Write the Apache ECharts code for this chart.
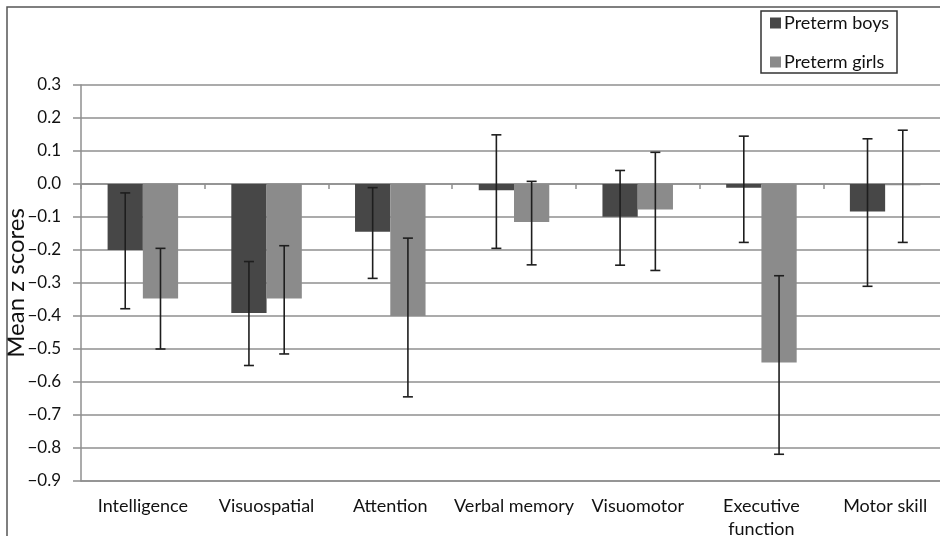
<!DOCTYPE html>
<html>
<head>
<meta charset="utf-8">
<script src="https://cdn.jsdelivr.net/npm/echarts@6/dist/echarts.min.js"></script>
<style>
html,body{margin:0;padding:0;background:#fff;}
#chart{width:940px;height:536px;}
</style>
</head>
<body>
<div id="chart"></div>
<script>
const categories = ['Intelligence', 'Visuospatial', 'Attention', 'Verbal memory', 'Visuomotor', 'Executive\nfunction', 'Motor skill'];
const seriesNames = ['Preterm boys', 'Preterm girls'];
const boysMean = [-0.200, -0.391, -0.145, -0.019, -0.099, -0.011, -0.083];
const boysLow  = [-0.378, -0.550, -0.286, -0.195, -0.246, -0.177, -0.310];
const boysHigh = [-0.027, -0.235, -0.011,  0.149,  0.041,  0.145,  0.137];
const girlsMean = [-0.347, -0.347, -0.400, -0.115, -0.077, -0.541, -0.004];
const girlsLow  = [-0.500, -0.515, -0.645, -0.245, -0.262, -0.819, -0.177];
const girlsHigh = [-0.195, -0.187, -0.164,  0.008,  0.096, -0.278,  0.163];
const yTickLabels = ['−0.9','−0.8','−0.7','−0.6','−0.5','−0.4','−0.3','−0.2','−0.1','0.0','0.1','0.2','0.3'];
const yMin = -0.9, yMax = 0.3, yStep = 0.1;

const FONT = 'Lato';
const barCatGap = 0.43;
const colors = ['#474747', '#8b8b8b'];

function errorRender(side) {
  return function (params, api) {
    const cat = api.value(0);
    const lo = api.coord([cat, api.value(1)]);
    const hi = api.coord([cat, api.value(2)]);
    const catW = api.size([1, 0])[0];
    const barW = catW * (1 - barCatGap) / 2;
    const x = lo[0] + side * barW / 2;
    const cap = 5;
    const style = { stroke: '#1e1e1e', lineWidth: 1.6 };
    return {
      type: 'group',
      children: [
        { type: 'line', shape: { x1: x, y1: lo[1], x2: x, y2: hi[1] }, style: style },
        { type: 'line', shape: { x1: x - cap, y1: lo[1], x2: x + cap, y2: lo[1] }, style: style },
        { type: 'line', shape: { x1: x - cap, y1: hi[1], x2: x + cap, y2: hi[1] }, style: style }
      ]
    };
  };
}

const chart = echarts.init(document.getElementById('chart'), null, { renderer: 'canvas' });
chart.setOption({
  animation: false,
  backgroundColor: '#fff',
  textStyle: { fontFamily: FONT },
  graphic: [
    { type: 'rect', shape: { x: 7, y: 7, width: 960, height: 560 }, style: { fill: 'none', stroke: '#555', lineWidth: 1.5 }, z: 100 },
    { type: 'rect', shape: { x: 761, y: 11, width: 136, height: 62 }, style: { fill: '#fff', stroke: '#333', lineWidth: 1.5 }, z: 1 }
  ],
  legend: {
    orient: 'vertical',
    left: 765,
    top: 9,
    itemGap: 21,
    itemWidth: 11,
    itemHeight: 11,
    icon: 'rect',
    z: 10,
    data: seriesNames,
    textStyle: { fontFamily: FONT, fontSize: 18, color: '#111', lineHeight: 18, padding: [0, 0, 0, -2] }
  },
  grid: { left: 81, top: 85, width: 866, bottom: 55, containLabel: false, outerBoundsMode: 'none' },
  xAxis: [
    {
      type: 'category',
      data: categories,
      position: 'bottom',
      axisLine: { onZero: false, lineStyle: { color: '#8f8f8f', width: 1.5 } },
      axisTick: { show: false },
      axisLabel: { fontFamily: FONT, fontSize: 18, color: '#111', margin: 14, lineHeight: 23, interval: 0 }
    },
    {
      type: 'category',
      data: categories,
      position: 'bottom',
      axisLine: { onZero: true, lineStyle: { color: '#8f8f8f', width: 1.5 } },
      axisTick: { show: true, length: 5, lineStyle: { color: '#8f8f8f', width: 1.5 } },
      axisLabel: { show: false }
    }
  ],
  yAxis: {
    type: 'value',
    min: yMin,
    max: yMax,
    interval: yStep,
    name: 'Mean z scores',
    nameLocation: 'middle',
    nameGap: 53,
    nameMoveOverlap: false,
    nameTextStyle: { fontFamily: FONT, fontSize: 24, color: '#111' },
    axisLine: { show: true, lineStyle: { color: '#8f8f8f', width: 1.5 } },
    axisTick: { show: true, length: 8, lineStyle: { color: '#8f8f8f', width: 1.5 } },
    axisLabel: {
      fontFamily: FONT, fontSize: 17, color: '#111', margin: 20,
      formatter: function (v) { return yTickLabels[Math.round((v - yMin) / yStep)]; }
    },
    splitLine: { show: true, lineStyle: { color: '#8f8f8f', width: 1.5 } }
  },
  series: [
    {
      name: seriesNames[0], type: 'bar', xAxisIndex: 0, data: boysMean,
      barGap: '0%', barCategoryGap: (barCatGap * 100) + '%',
      itemStyle: { color: colors[0] }, z: 2
    },
    {
      name: seriesNames[1], type: 'bar', xAxisIndex: 0, data: girlsMean,
      barGap: '0%', barCategoryGap: (barCatGap * 100) + '%',
      itemStyle: { color: colors[1] }, z: 2
    },
    {
      type: 'custom', xAxisIndex: 0, z: 5, silent: true,
      renderItem: errorRender(-1),
      encode: { x: 0, y: [1, 2] },
      data: categories.map((c, i) => [i, boysLow[i], boysHigh[i]])
    },
    {
      type: 'custom', xAxisIndex: 0, z: 5, silent: true,
      renderItem: errorRender(1),
      encode: { x: 0, y: [1, 2] },
      data: categories.map((c, i) => [i, girlsLow[i], girlsHigh[i]])
    }
  ]
});
</script>
</body>
</html>
